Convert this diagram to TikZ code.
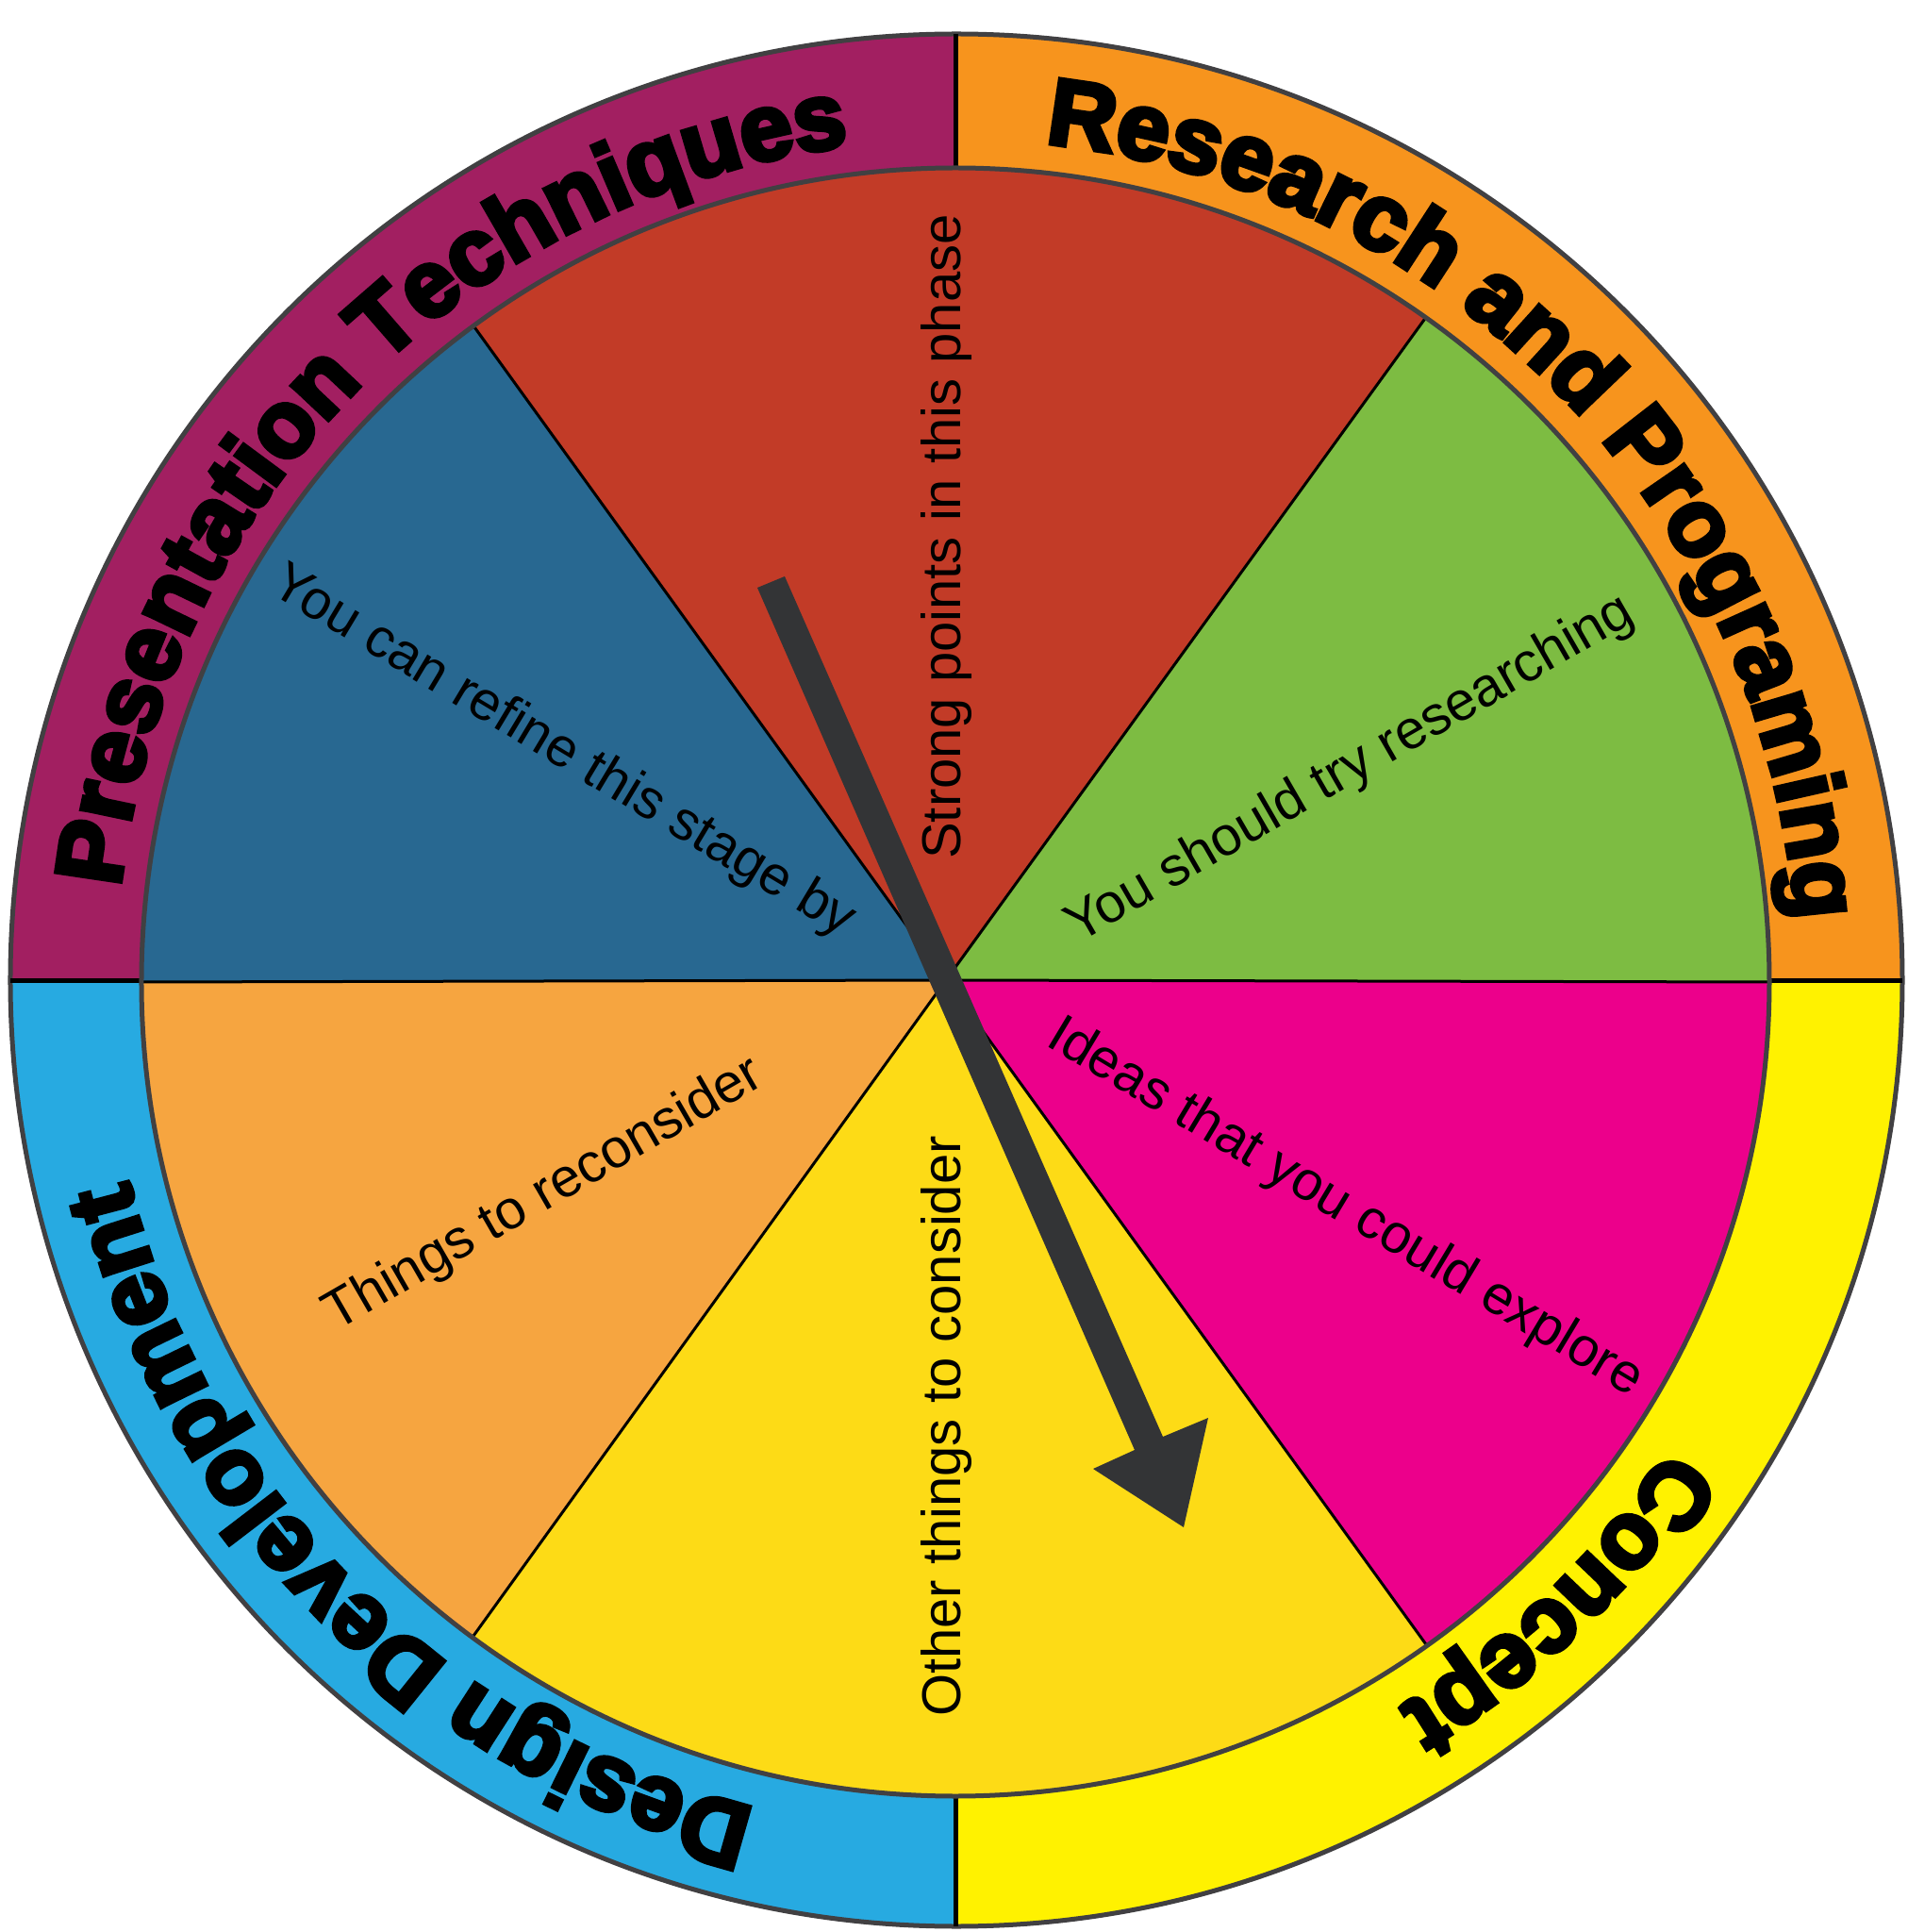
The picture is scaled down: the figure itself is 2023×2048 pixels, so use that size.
\documentclass[tikz,border=0pt]{standalone}
\usepackage{fontspec}
\setmainfont{Liberation Sans}
\newfontfamily\ringfont{Liberation Sans Bold}[FakeBold=5]
\usetikzlibrary{decorations.text}
\definecolor{ringpurple}{HTML}{A21F61}
\definecolor{ringorange}{HTML}{F7941D}
\definecolor{ringyellow}{HTML}{FFF200}
\definecolor{ringblue}{HTML}{27AAE1}
\definecolor{secred}{HTML}{C23B27}
\definecolor{secgreen}{HTML}{7DBC42}
\definecolor{secmagenta}{HTML}{EC008B}
\definecolor{secyellow}{HTML}{FDDB16}
\definecolor{secorange}{HTML}{F6A540}
\definecolor{secblue}{HTML}{286891}
\definecolor{arrowgray}{HTML}{333436}
\definecolor{rimgray}{HTML}{414042}
\tikzset{
  rim/.style={draw=rimgray, line width=5pt},
  ringdiv/.style={draw=black, line width=5pt},
  secdiv/.style={draw=black, line width=3pt},
  sectext/.style={inner sep=0pt, font=\fontsize{58}{60}\selectfont, text=black},
  ringtext/.style={decorate, decoration={text along path, text align=center, text={|\ringfont\fontsize{100}{100}\selectfont|#1}}}
}
\begin{document}
\begin{tikzpicture}[x=1pt,y=1pt]
\useasboundingbox (-1014,-1009) rectangle (1009,1039);
% outer ring quadrants
\fill[ringorange] (0,0) -- (0:1003) arc[start angle=0, end angle=90, radius=1003] -- cycle;
\fill[ringpurple] (0,0) -- (90:1003) arc[start angle=90, end angle=180, radius=1003] -- cycle;
\fill[ringblue] (0,0) -- (180:1003) arc[start angle=180, end angle=270, radius=1003] -- cycle;
\fill[ringyellow] (0,0) -- (270:1003) arc[start angle=270, end angle=360, radius=1003] -- cycle;
\draw[rim] (0,0) circle[radius=1003];
\draw[ringdiv] (0,863) -- (0,1003);
\draw[ringdiv] (0,-863) -- (0,-1003);
\draw[ringdiv] (-863,0) -- (-1003,0);
\draw[ringdiv] (863,0) -- (1003,0);
% inner sectors
\begin{scope}[shift={(-1,-2)}]
\coordinate (V) at (-10,2);
\fill[secgreen] (V) -- (0:863) arc[start angle=0, end angle=54.7, radius=863] -- cycle;
\fill[secred] (V) -- (54.7:863) arc[start angle=54.7, end angle=126.3, radius=863] -- cycle;
\fill[secblue] (V) -- (126.3:863) arc[start angle=126.3, end angle=180, radius=863] -- cycle;
\fill[secorange] (V) -- (180:863) arc[start angle=180, end angle=233.6, radius=863] -- cycle;
\fill[secyellow] (V) -- (233.6:863) arc[start angle=233.6, end angle=305.4, radius=863] -- cycle;
\fill[secmagenta] (V) -- (305.4:863) arc[start angle=305.4, end angle=360, radius=863] -- cycle;
\draw[secdiv] (V) -- (0:863);
\draw[secdiv] (V) -- (54.7:863);
\draw[secdiv] (V) -- (126.3:863);
\draw[secdiv] (V) -- (180:863);
\draw[secdiv] (V) -- (233.6:863);
\draw[secdiv] (V) -- (305.4:863);
\draw[rim] (0,0) circle[radius=863];
\end{scope}
% ring labels
\path[ringtext={Presentation Techniques}] (183:892) arc[start angle=183, end angle=88, radius=892];
\path[ringtext={Research and Programing}] (90:892) arc[start angle=90, end angle=-2, radius=892];
\path[ringtext={Concept}] (0:903) arc[start angle=0, end angle=-92, radius=903];
\path[ringtext={Design Development}] (-88:903) arc[start angle=-88, end angle=-182, radius=903];
% sector texts
\node[sectext, rotate=90] (strong) at (-10,470) {Strong points in this phase};
\node[sectext, rotate=30] (research) at (418,223) {You should try researching};
\node[sectext, rotate=-31] (ideas) at (412,-242) {Ideas that you could explore};
\node[sectext, rotate=90] (other) at (-10,-473) {Other things to consider};
\node[sectext, rotate=30] (things) at (-437,-228) {Things to reconsider};
\node[sectext, rotate=-31] (refine) at (-417,241) {You can refine this stage by};
% arrow
\fill[arrowgray] (-211,416) -- (189,-498) -- (145,-518) -- (241,-580) -- (267,-464) -- (219,-484) -- (-182,428) -- cycle;
\end{tikzpicture}
\end{document}
